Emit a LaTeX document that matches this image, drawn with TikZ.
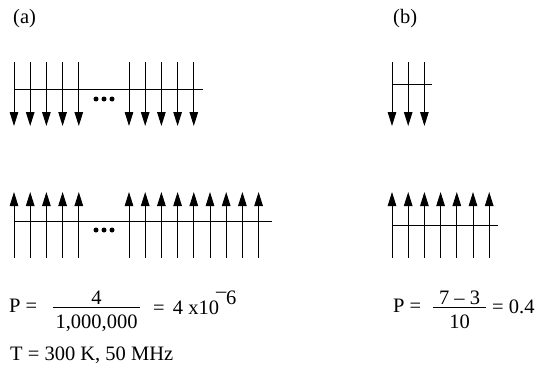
\documentclass[tikz,border=0pt]{standalone}
\usepackage{fontspec}
\setmainfont{Liberation Serif}
\usetikzlibrary{arrows.meta}
\begin{document}
\begin{tikzpicture}[x=1pt,y=-1pt,
  vline/.style={line width=1pt},
  hline/.style={line width=1pt},
  arr/.style={vline,-{Triangle[length=14pt,width=8.5pt]}},
  txt/.style={inner sep=0pt,font=\fontsize{20.5}{24}\selectfont},
  dot/.style={fill=black,circle,inner sep=0pt,minimum size=5pt}]
\useasboundingbox (0,0) rectangle (549,369);
% labels
\node[txt,anchor=base west] (la) at (13,24) {(a)};
\node[txt,anchor=base west] (lb) at (393,24) {(b)};
% (a) top: downward arrows
\draw[hline] (14,90) -- (203,90);
\foreach \x in {14,30.2,46.4,62.6,78.8,129,145.2,161.4,177.6,193.8}
  \draw[arr] (\x,62) -- (\x,126);
\node[dot] (d1) at (96,99) {};
\node[dot] (d2) at (104,99) {};
\node[dot] (d3) at (112,99) {};
% (a) bottom: upward arrows
\draw[hline] (14,221) -- (272,221);
\foreach \x in {14,30.2,46.4,62.6,78.8,129,145.2,161.4,177.6,193.8,210,226.2,242.4,258.6}
  \draw[arr] (\x,258) -- (\x,192);
\node[dot] (d4) at (96,230) {};
\node[dot] (d5) at (104,230) {};
\node[dot] (d6) at (112,230) {};
% (b) top
\draw[hline] (392,85) -- (432,85);
\foreach \x in {392,408.2,424.4}
  \draw[arr] (\x,62) -- (\x,126);
% (b) bottom
\draw[hline] (392,225) -- (498,225);
\foreach \x in {392,408.2,424.4,440.6,456.8,473,489.2}
  \draw[arr] (\x,258) -- (\x,192);
% formula (a)
\node[txt,anchor=base west] (pa) at (9,312) {P =};
\node[txt,anchor=base] (na) at (96.5,304) {4};
\draw[line width=1pt] (53,307) -- (140,307);
\node[txt,anchor=base] (da) at (96.5,328) {1,000,000};
\node[txt,anchor=base west] (ra) at (153,314) {=\hspace{0.4em}4 x10};
\node[txt,anchor=base west] (sm) at (216,297) {–};
\node[txt,anchor=base west] (s6) at (226,304) {6};
% formula (b)
\node[txt,anchor=base west] (pb) at (393,312) {P =};
\node[txt,anchor=base] (nb) at (459.5,304) {7 – 3};
\draw[line width=1pt] (433,307) -- (486,307);
\node[txt,anchor=base] (db) at (459.5,328) {10};
\node[txt,anchor=base west] (rb) at (492,313) {= 0.4};
% T line
\node[txt,anchor=base west] (tl) at (10,360) {T = 300 K, 50 MHz};
\end{tikzpicture}
\end{document}
